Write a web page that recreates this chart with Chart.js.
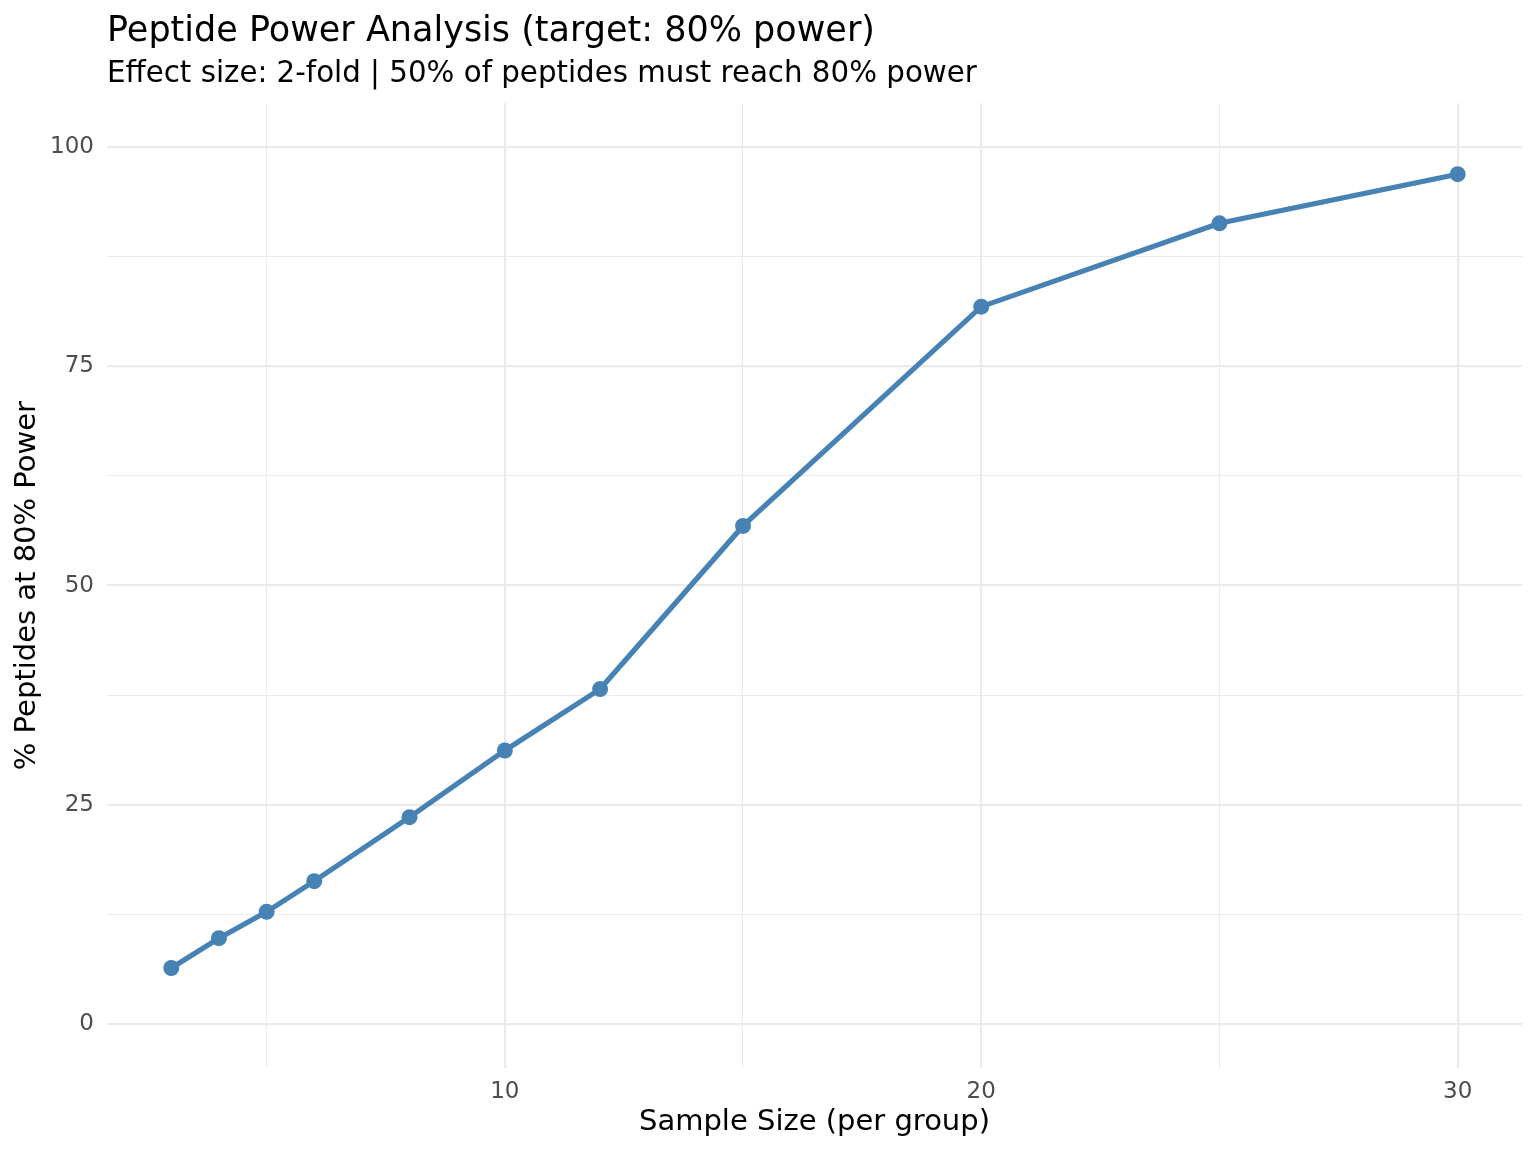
<!DOCTYPE html>
<html>
<head>
<meta charset="utf-8">
<script src="https://cdn.jsdelivr.net/npm/chart.js"></script>
<style>
  html, body { margin: 0; padding: 0; background: #ffffff; }
  #wrap { width: 1536px; height: 1152px; position: relative; }
</style>
</head>
<body>
<div id="wrap"><canvas id="powerChart"></canvas></div>
<script>
// sample sizes (per group) and % of peptides reaching 80% power
const sampleSizes = [3, 4, 5, 6, 8, 10, 12, 15, 20, 25, 30];
const pctPeptides = [6.4, 9.8, 12.8, 16.3, 23.6, 31.2, 38.2, 56.8, 81.8, 91.3, 96.9];

// grid breaks: labelled majors + unlabelled minors (ggplot style)
const xTicks = [5, 10, 15, 20, 25, 30];
const xMajor = [10, 20, 30];
const yTicks = [0, 12.5, 25, 37.5, 50, 62.5, 75, 87.5, 100];
const yMajor = [0, 25, 50, 75, 100];

const FONT = "'DejaVu Sans', sans-serif";
const gridColor = '#EBEBEB';

Chart.defaults.font.family = FONT;

function gridWidth(majors) {
  return ctx => (ctx.tick && majors.includes(ctx.tick.value)) ? 2.2 : 1.1;
}

new Chart(document.getElementById('powerChart').getContext('2d'), {
  type: 'line',
  data: {
    datasets: [{
      label: '% Peptides',
      data: sampleSizes.map((x, i) => ({ x, y: pctPeptides[i] })),
      borderColor: '#4682B4',
      backgroundColor: '#4682B4',
      borderWidth: 5.2,
      pointRadius: 8,
      pointBorderWidth: 0,
      pointBackgroundColor: '#4682B4',
      tension: 0,
      fill: false
    }]
  },
  options: {
    responsive: true,
    maintainAspectRatio: false,
    animation: false,
    devicePixelRatio: 1,
    layout: { padding: { left: 0, right: 14, top: 0, bottom: 0 } },
    plugins: {
      legend: { display: false },
      tooltip: { enabled: false },
      title: {
        display: true,
        text: 'Peptide Power Analysis (target: 80% power)',
        align: 'start',
        fullSize: false,
        color: '#000000',
        font: { size: 35, weight: 'normal' },
        padding: { top: 11, bottom: 4 }
      },
      subtitle: {
        display: true,
        text: 'Effect size: 2-fold | 50% of peptides must reach 80% power',
        align: 'start',
        fullSize: false,
        color: '#000000',
        font: { size: 29.3, weight: 'normal' },
        padding: { top: 0, bottom: 11 }
      }
    },
    scales: {
      x: {
        type: 'linear',
        min: 1.65,
        max: 31.35,
        afterBuildTicks: s => { s.ticks = xTicks.map(v => ({ value: v })); },
        afterFit: s => { s.height = 84; },
        border: { display: false },
        grid: {
          color: gridColor,
          lineWidth: gridWidth(xMajor),
          drawTicks: false
        },
        ticks: {
          autoSkip: false,
          maxRotation: 0,
          padding: 10,
          color: '#4D4D4D',
          font: { size: 23 },
          callback: v => xMajor.includes(v) ? String(v) : ''
        },
        title: {
          display: true,
          text: 'Sample Size (per group)',
          color: '#000000',
          font: { size: 29 },
          padding: { top: 0, bottom: 12 }
        }
      },
      y: {
        type: 'linear',
        min: -5,
        max: 105,
        afterBuildTicks: s => { s.ticks = yTicks.map(v => ({ value: v })); },
        afterFit: s => { s.width = 107; },
        border: { display: false },
        grid: {
          color: gridColor,
          lineWidth: gridWidth(yMajor),
          drawTicks: false
        },
        ticks: {
          autoSkip: false,
          padding: 13,
          color: '#4D4D4D',
          font: { size: 23 },
          callback: v => yMajor.includes(v) ? String(v) : ''
        },
        title: {
          display: true,
          text: '% Peptides at 80% Power',
          color: '#000000',
          font: { size: 29 },
          padding: { top: 10, bottom: 0 }
        }
      }
    }
  }
});
</script>
</body>
</html>
